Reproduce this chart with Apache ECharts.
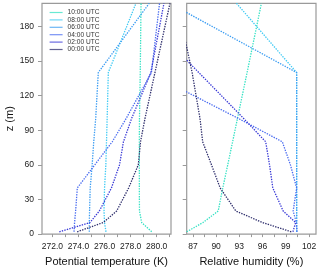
<!DOCTYPE html>
<html>
<head>
<meta charset="utf-8">
<script src="https://cdn.jsdelivr.net/npm/echarts@6/dist/echarts.min.js"></script>
<style>
html,body{margin:0;padding:0;background:#fff;}
#c{width:320px;height:272px;}
</style>
</head>
<body>
<div id="c"></div>
<script>
// Heights (m) shared by all profiles
var heights = [2, 10, 20, 40, 60, 80, 100, 140, 200];

// Series names (legend order)
var seriesNames = ['10:00 UTC', '08:00 UTC', '06:00 UTC', '04:00 UTC', '02:00 UTC', '00:00 UTC'];

// Potential temperature (K) per series, at heights above
var theta1000 = [279.62, 278.85, 278.68, 278.67, 278.67, 278.67, 278.68, 278.74, 278.80];
var theta0800 = [276.11, 276.00, 275.96, 276.00, 276.10, 276.15, 276.20, 276.29, 278.41];
var theta0600 = [274.83, 274.83, 274.85, 274.90, 275.05, 275.17, 275.32, 275.52, 279.43];
var theta0400 = [273.66, 273.70, 273.78, 273.91, 275.25, 276.59, 277.65, 279.60, 280.22];
var theta0200 = [272.53, 274.88, 275.60, 276.53, 277.15, 277.45, 278.07, 279.55, 280.56];
var theta0000 = [273.90, 275.90, 276.93, 277.85, 278.59, 278.76, 279.10, 279.87, 281.02];

// Relative humidity (%) per series, at heights above
var rh1000 = [86.20, 88.30, 90.27, 90.86, 91.50, 92.13, 92.75, 94.00, 95.85];
var rh0800 = [100.40, 100.40, 100.40, 100.40, 100.40, 100.40, 100.40, 100.40, 92.63];
var rh0600 = [100.40, 100.40, 100.40, 100.40, 100.40, 100.40, 100.40, 100.40, 84.00];
var rh0400 = [100.45, 100.36, 99.95, 100.40, 99.60, 98.55, 92.94, 81.30, 80.00];
var rh0200 = [99.92, 100.27, 98.66, 97.32, 96.90, 96.40, 93.59, 87.76, 79.00];
var rh0000 = [99.71, 96.00, 92.55, 90.52, 89.40, 88.26, 87.92, 86.90, 85.00];

// Axis ticks
var zTicks = [0, 30, 60, 90, 120, 150, 180];
var thetaLabels = [272, 274, 276, 278, 280];
var thetaTicks = [272, 273, 274, 275, 276, 277, 278, 279, 280, 281];
var rhLabels = [87, 90, 93, 96, 99, 102];
var rhTicks = [87, 88.5, 90, 91.5, 93, 94.5, 96, 97.5, 99, 100.5, 102];

var colors = ['#36e2c4', '#3fcaf4', '#3a9cf2', '#4a6cf0', '#3838d6', '#2e2e6c'];

var thetaSets = [theta1000, theta0800, theta0600, theta0400, theta0200, theta0000];
var rhSets = [rh1000, rh0800, rh0600, rh0400, rh0200, rh0000];

function pairs(xs) {
  return xs.map(function (v, i) { return [v, heights[i]]; });
}

var series = [];
seriesNames.forEach(function (name, k) {
  var ls = { color: colors[k], width: 1.3, type: [1.4, 1.2] };
  series.push({
    name: name, type: 'line', xAxisIndex: 0, yAxisIndex: 0,
    data: pairs(thetaSets[k]), symbol: 'none', lineStyle: ls,
    itemStyle: { color: colors[k] }, clip: true, animation: false
  });
  series.push({
    name: name, type: 'line', xAxisIndex: 1, yAxisIndex: 1,
    data: pairs(rhSets[k]), symbol: 'none', lineStyle: ls,
    itemStyle: { color: colors[k] }, clip: true, animation: false
  });
});

var axisGray = '#9a9a9a';
var labelStyle = { color: '#222', fontSize: 8.5, fontFamily: 'Liberation Sans, Arial, sans-serif' };
var nameStyle = { color: '#111', fontSize: 11, fontFamily: 'Liberation Sans, Arial, sans-serif' };

var chart = echarts.init(document.getElementById('c'), null, { renderer: 'canvas' });
chart.setOption({
  backgroundColor: '#fff',
  animation: false,
  grid: [
    { left: 42, top: 3.3, width: 129, height: 235, show: true, borderColor: axisGray, borderWidth: 1.2, containLabel: false },
    { left: 186.7, top: 3.3, width: 129.3, height: 235, show: true, borderColor: axisGray, borderWidth: 1.2, containLabel: false }
  ],
  legend: {
    data: seriesNames,
    orient: 'vertical',
    left: 49, top: 9, padding: 0,
    itemWidth: 13, itemHeight: 7, itemGap: 0.4,
    textStyle: { color: '#333', fontSize: 6.6, fontFamily: 'Liberation Sans, Arial, sans-serif', lineHeight: 7 },
    lineStyle: { type: 'solid', width: 1.2, opacity: 0.75 },
    itemStyle: { opacity: 0 }
  },
  xAxis: [
    {
      type: 'value', gridIndex: 0, min: 271.2, max: 281.1,
      name: 'Potential temperature (K)', nameLocation: 'middle', nameGap: 21, nameTextStyle: nameStyle,
      axisLine: { show: false },
      axisTick: { show: true, inside: false, length: 3, lineStyle: { color: axisGray }, customValues: thetaTicks },
      axisLabel: { show: true, margin: 8, customValues: thetaLabels, formatter: function (v) { return v.toFixed(1); }, ...labelStyle },
      splitLine: { show: false }
    },
    {
      type: 'value', gridIndex: 1, min: 86.2, max: 102.9,
      name: 'Relative humidity (%)', nameLocation: 'middle', nameGap: 21, nameTextStyle: nameStyle,
      axisLine: { show: false },
      axisTick: { show: true, inside: false, length: 3, lineStyle: { color: axisGray }, customValues: rhTicks },
      axisLabel: { show: true, margin: 8, customValues: rhLabels, formatter: function (v) { return String(v); }, ...labelStyle },
      splitLine: { show: false }
    }
  ],
  yAxis: [
    {
      type: 'value', gridIndex: 0, min: 0, max: 200,
      name: 'z (m)', nameLocation: 'middle', nameGap: 25, nameTextStyle: nameStyle,
      axisLine: { show: false },
      axisTick: { show: true, length: 4, lineStyle: { color: axisGray }, customValues: zTicks },
      axisLabel: { show: true, margin: 8, customValues: zTicks, ...labelStyle },
      splitLine: { show: false }
    },
    {
      type: 'value', gridIndex: 1, min: 0, max: 200,
      axisLine: { show: false },
      axisTick: { show: true, length: 4, lineStyle: { color: axisGray }, customValues: zTicks },
      axisLabel: { show: false },
      splitLine: { show: false }
    }
  ],
  series: series
});
</script>
</body>
</html>
